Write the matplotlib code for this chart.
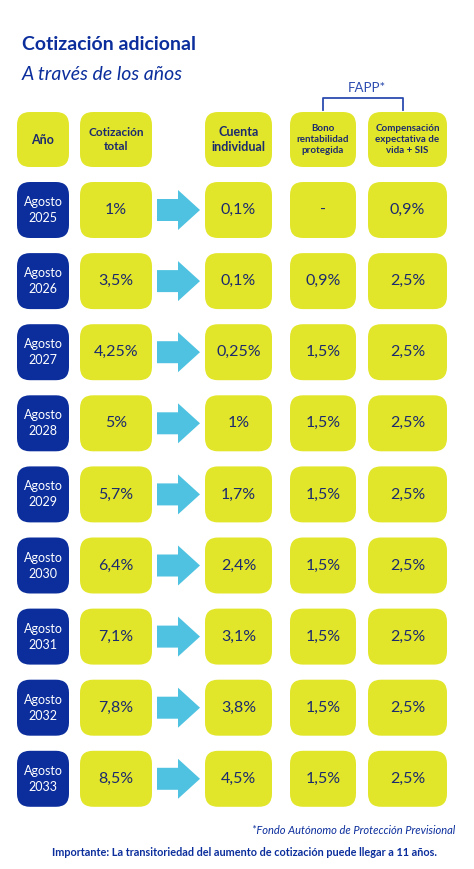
import matplotlib
matplotlib.use("Agg")
import matplotlib.pyplot as plt
from matplotlib.patches import FancyBboxPatch, Polygon

years = ["2025", "2026", "2027", "2028", "2029", "2030", "2031", "2032", "2033"]
total = ["1%", "3,5%", "4,25%", "5%", "5,7%", "6,4%", "7,1%", "7,8%", "8,5%"]
cuenta = ["0,1%", "0,1%", "0,25%", "1%", "1,7%", "2,4%", "3,1%", "3,8%", "4,5%"]
bono = ["-", "0,9%", "1,5%", "1,5%", "1,5%", "1,5%", "1,5%", "1,5%", "1,5%"]
comp = ["0,9%", "2,5%", "2,5%", "2,5%", "2,5%", "2,5%", "2,5%", "2,5%", "2,5%"]
headers = ["Año", "Cotización\ntotal", "Cuenta\nindividual", "Bono\nrentabilidad\nprotegida",
           "Compensación\nexpectativa de\nvida + SIS"]

YEL = "#E2E62A"; DARK = "#0B2E9C"; NAVY = "#1C2A6E"; ARR = "#4EC2E0"

fig = plt.figure(figsize=(4.74, 8.69), dpi=100)
ax = fig.add_axes([0, 0, 1, 1])
ax.set_xlim(0, 474); ax.set_ylim(869, 0); ax.axis("off")

cols = [(17, 69), (80, 152), (205, 272), (290, 356), (368, 447)]

def box(x0, x1, y0, y1, color):
    r = 13
    ax.add_patch(FancyBboxPatch((x0 + r, y0 + r), x1 - x0 - 2 * r, y1 - y0 - 2 * r,
                                boxstyle=f"round,pad={r}", fc=color, ec="none"))

ax.text(22, 45, "Cotización adicional", fontsize=14, fontweight="bold", color=DARK, va="center", family="Lato")
ax.text(22, 74, "A través de los años", fontsize=14, style="italic", color=DARK, va="center", family="Lato")

hs = [9, 8.5, 9, 7, 7]
for (x0, x1), h, fs in zip(cols, headers, hs):
    box(x0, x1, 112, 167, YEL)
    ax.text((x0 + x1) / 2, 139.5, h, ha="center", va="center", fontsize=fs, fontweight="bold",
            color=NAVY, linespacing=1.35, family="Lato")

ax.plot([323, 323, 403, 403], [110, 98, 98, 110], color="#2B4BB0", lw=1.3)
ax.text(367, 88, "FAPP*", ha="center", va="center", fontsize=9.5, color="#2B4BB0", family="Lato")

for i, yr in enumerate(years):
    y0 = 182 + i * 71.1
    y1 = y0 + 56
    yc = (y0 + y1) / 2
    box(*cols[0], y0, y1, DARK)
    ax.text(43, yc, "Agosto\n" + yr, ha="center", va="center", fontsize=9, color="white",
            linespacing=1.4, family="Lato")
    for (x0, x1), val in zip(cols[1:], [total[i], cuenta[i], bono[i], comp[i]]):
        box(x0, x1, y0, y1, YEL)
        ax.text((x0 + x1) / 2, yc, val, ha="center", va="center", fontsize=11.5, color=NAVY, family="Lato")
    ax.add_patch(Polygon([(157, yc - 11), (178, yc - 11), (178, yc - 20), (200, yc),
                          (178, yc + 20), (178, yc + 11), (157, yc + 11)], fc=ARR, ec="none"))

ax.text(455, 831, "*Fondo Autónomo de Protección Previsional", ha="right", va="center",
        fontsize=8, style="italic", color=DARK, family="Lato")
ax.text(245, 853, "Importante: La transitoriedad del aumento de cotización puede llegar a 11 años.",
        ha="center", va="center", fontsize=7.8, fontweight="bold", color=DARK, family="Lato")

fig.savefig("out.png", dpi=100, facecolor="white")
